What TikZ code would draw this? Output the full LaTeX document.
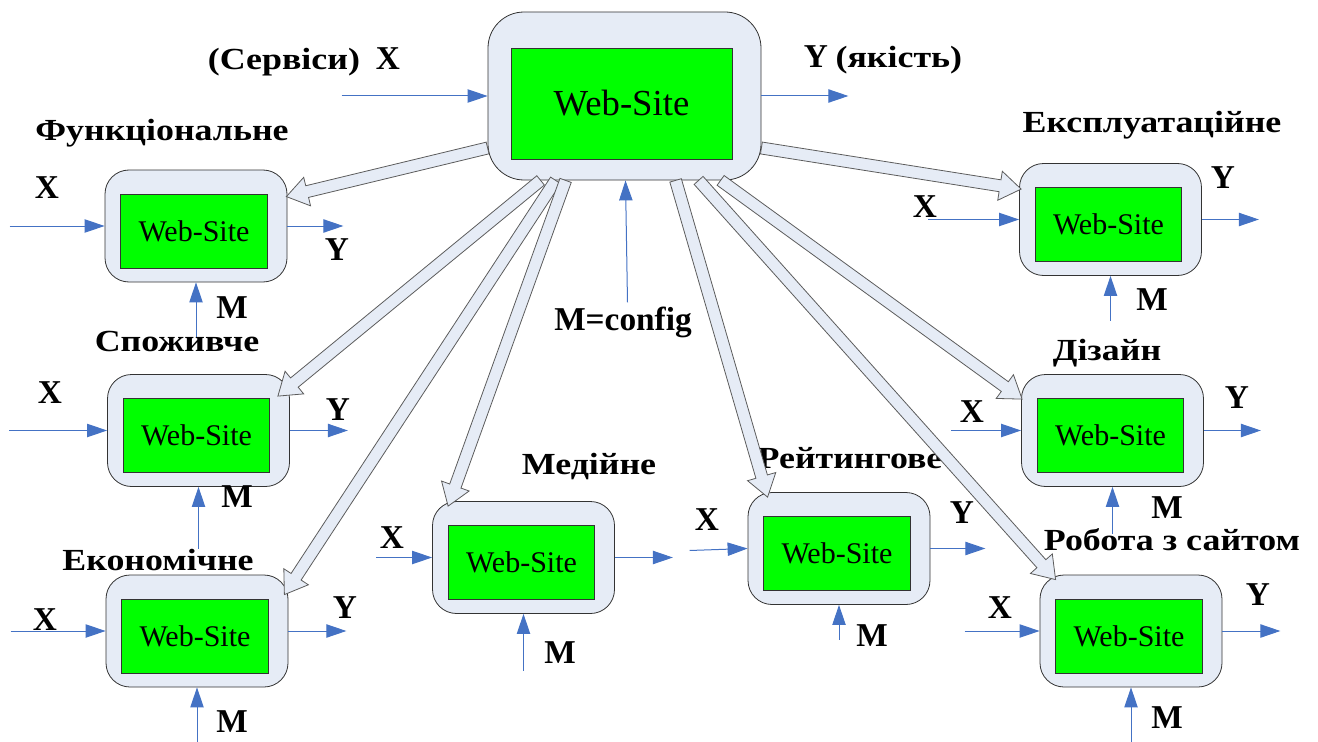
\documentclass[tikz,border=0pt]{standalone}
\usepackage{fontspec}
\setmainfont{Liberation Serif}
\newfontfamily\timesface{Liberation Serif}
\usetikzlibrary{calc,arrows.meta}

\definecolor{boxfill}{HTML}{E6ECF6}
\definecolor{webgreen}{HTML}{00FF00}
\definecolor{flowblue}{HTML}{4472C4}
\definecolor{edgegray}{HTML}{333333}

\newcommand\stretched[1]{\scalebox{1.17}[1]{#1}}

% hollow block arrow from #1 to the tip #2
\newcommand\blockarrow[2]{%
  \coordinate (ba-h) at ($(#2)!16pt!(#1)$);
  \draw[hollow] ($(#1)!4.5pt!90:(#2)$) -- ($(ba-h)!4.5pt!-90:(#1)$)
    -- ($(ba-h)!11pt!-90:(#1)$) -- (#2) -- ($(ba-h)!11pt!90:(#1)$)
    -- ($(ba-h)!4.5pt!90:(#1)$) -- ($(#1)!4.5pt!-90:(#2)$) -- cycle;
}

% one small unit: rounded frame with the green Web-Site panel
\newcommand\unitbox[3]{%
  \node[unit] (#1) at (#2,#3) {};
  \node[screen] (#1w) at ($(#1)+(-2,5)$) {Web-Site};
}

\tikzset{
  unit/.style={draw=edgegray, fill=boxfill, line width=0.6pt, rounded corners=18pt,
    minimum width=136.5pt, minimum height=84pt, inner sep=0pt},
  screen/.style={draw=edgegray, fill=webgreen, line width=0.6pt,
    minimum width=110pt, minimum height=55.5pt, inner sep=0pt,
    font=\timesface\fontsize{22.5}{24}\selectfont},
  flow/.style={draw=flowblue, line width=0.75pt, -{Triangle[length=15pt,width=10pt]}},
  hollow/.style={draw=edgegray!80, fill=boxfill, line width=0.6pt, line join=miter},
  title/.style={font=\timesface\bfseries\fontsize{23}{26}\selectfont, inner sep=0pt},
  var/.style={font=\timesface\bfseries\fontsize{25}{27}\selectfont, inner sep=0pt},
}

\begin{document}
\begin{tikzpicture}[x=0.75pt,y=-0.75pt]
\useasboundingbox (0,0) rectangle (1318,742);

% central unit
\node[unit, rounded corners=27pt, minimum width=204.75pt, minimum height=126pt] (main) at (624.5,96) {};
\node[screen, minimum width=165.75pt, minimum height=83.25pt, font=\timesface\fontsize{27.5}{30}\selectfont] (mainw) at (621.5,103.5) {Web-Site};

% the eight quality units
\unitbox{F}{196}{226}
\unitbox{S}{198.5}{430.5}
\unitbox{E}{197}{631}
\unitbox{Md}{523.5}{557.5}
\unitbox{R}{839}{548.5}
\unitbox{Ex}{1110.5}{219.5}
\unitbox{D}{1112.5}{430.5}
\unitbox{Rb}{1131}{631}

% thin flows of the central unit
\draw[flow] ($(main.west)+(-146,0)$) -- (main.west);
\draw[flow] (main.east) -- ($(main.east)+(87,0)$);
\draw[flow] ($(main.south)+(3,122)$) -- ($(main.south)+(1,0)$);

% inputs, outputs and configuration of the units
\draw[flow] ($(F.west)+(-95,0)$) -- (F.west);
\draw[flow] (F.east) -- ($(F.east)+(56,0)$);
\draw[flow] ($(F.south)+(0,56)$) -- (F.south);

\draw[flow] ($(S.west)+(-98,0)$) -- (S.west);
\draw[flow] (S.east) -- ($(S.east)+(58,0)$);
\draw[flow] ($(S.south)+(0,62)$) -- (S.south);

\draw[flow] ($(E.west)+(-95,0)$) -- (E.west);
\draw[flow] (E.east) -- ($(E.east)+(58,0)$);
\draw[flow] ($(E.south)+(0,55)$) -- (E.south);

\draw[flow] ($(Md.west)+(-56,0)$) -- (Md.west);
\draw[flow] (Md.east) -- ($(Md.east)+(58,0)$);
\draw[flow] ($(Md.south)+(0,57)$) -- (Md.south);

\draw[flow] ($(R.west)+(-58,2)$) -- (R.west);
\draw[flow] (R.east) -- ($(R.east)+(55,0)$);
\draw[flow] ($(R.south)+(0,35)$) -- (R.south);

\draw[flow] ($(Ex.west)+(-91,0)$) -- (Ex.west);
\draw[flow] (Ex.east) -- ($(Ex.east)+(57,0)$);
\draw[flow] ($(Ex.south)+(0,45)$) -- (Ex.south);

\draw[flow] ($(D.west)+(-70,0)$) -- (D.west);
\draw[flow] (D.east) -- ($(D.east)+(57,0)$);
\draw[flow] ($(D.south)+(0,47)$) -- (D.south);

\draw[flow] ($(Rb.west)+(-75,0)$) -- (Rb.west);
\draw[flow] (Rb.east) -- ($(Rb.east)+(58,0)$);
\draw[flow] ($(Rb.south)+(0,55)$) -- (Rb.south);

% labels
\node[title] (tIn) at (304,62) {\stretched{(Сервіси)}\hspace{12pt}{\fontsize{25}{27}\selectfont X}};
\node[title] (tOut) at (883,60) {{\fontsize{25}{27}\selectfont Y} \stretched{(якість)}};
\node[var] (tCfg) at (623,322) {M=config};

\node[title] (tF) at (162,133) {\stretched{Функціональне}};
\node[var] (FX) at (47,188) {X};
\node[var] (FY) at (337,250) {Y};
\node[var] (FM) at (232,308) {M};

\node[title] (tS) at (177,341) {\stretched{Споживче}};
\node[var] (SX) at (50,393) {X};
\node[var] (SY) at (338,410) {Y};
\node[var] (SM) at (237,497) {M};

\node[title] (tE) at (158,560) {\stretched{Економічне}};
\node[var] (EX) at (45,620) {X};
\node[var] (EY) at (345,608) {Y};
\node[var] (EM) at (232,722) {M};

\node[title] (tMd) at (589,467) {\stretched{Медійне}};
\node[var] (MdX) at (392,538) {X};
\node[var] (MdM) at (560,653) {M};

\node[title] (tR) at (850,458) {\stretched{Рейтингове}};
\node[var] (RX) at (707,520) {X};
\node[var] (RY) at (962,513) {Y};
\node[var] (RM) at (872,636) {M};

\node[title] (tEx) at (1152,125) {\stretched{Експлуатаційне}};
\node[var] (ExX) at (925,207) {X};
\node[var] (ExY) at (1223,178) {Y};
\node[var] (ExM) at (1152,300) {M};

\node[title] (tD) at (1107,353) {\stretched{Дізайн}};
\node[var] (DX) at (972,412) {X};
\node[var] (DY) at (1237,398) {Y};
\node[var] (DM) at (1167,508) {M};

\node[title] (tRb) at (1172,540) {\stretched{Робота з сайтом}};
\node[var] (RbX) at (1000,608) {X};
\node[var] (RbY) at (1258,595) {Y};
\node[var] (RbM) at (1167,718) {M};

% decomposition arrows from the central unit
\coordinate (sF)  at ($(main.west)+(0,52)$);
\coordinate (sS)  at ($(main.south west)+(53,0)$);
\coordinate (sE)  at ($(main.south west)+(68,0)$);
\coordinate (sMd) at ($(main.south west)+(78,0)$);
\coordinate (sR)  at ($(main.south west)+(188,0)$);
\coordinate (sRb) at ($(main.south west)+(211,0)$);
\coordinate (sD)  at ($(main.south west)+(233,0)$);
\coordinate (sEx) at ($(main.east)+(0,52)$);

\coordinate (eF)  at ($(F.north east)+(-1,27)$);
\coordinate (eS)  at ($(S.north east)+(-12,22)$);
\coordinate (eE)  at ($(E.north east)+(-4,20)$);
\coordinate (eMd) at ($(Md.north west)+(16,5)$);
\coordinate (eR)  at ($(R.north west)+(20,5)$);
\coordinate (eRb) at ($(Rb.north west)+(16,5)$);
\coordinate (eD)  at ($(D.north west)+(1,25)$);
\coordinate (eEx) at ($(Ex.north west)+(2,26)$);

\blockarrow{sF}{eF}
\blockarrow{sS}{eS}
\blockarrow{sE}{eE}
\blockarrow{sMd}{eMd}
\blockarrow{sR}{eR}
\blockarrow{sRb}{eRb}
\blockarrow{sD}{eD}
\blockarrow{sEx}{eEx}
\end{tikzpicture}
\end{document}
